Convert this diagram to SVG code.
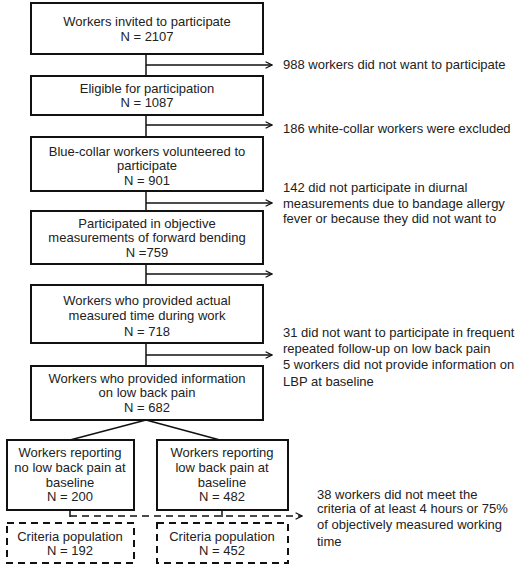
<svg xmlns="http://www.w3.org/2000/svg" width="521" height="566" viewBox="0 0 521 566">
<defs>
<marker id="arr" viewBox="0 0 10 10" refX="9" refY="5" markerWidth="8" markerHeight="8" markerUnits="userSpaceOnUse" orient="auto">
<path d="M1,1 L9,5 L1,9" fill="none" stroke="#111" stroke-width="1.6"/>
</marker>
</defs>
<style>
.box{fill:#fff;stroke:#111;stroke-width:2}
.dbox{fill:#fff;stroke:#111;stroke-width:2;stroke-dasharray:7,5}
.ln{fill:none;stroke:#111;stroke-width:1.5}
.dl{fill:none;stroke:#111;stroke-width:1.5;stroke-dasharray:7,5}
text{font-family:"Liberation Sans",Arial,sans-serif;font-size:13px;fill:#222}
.c{text-anchor:middle}
</style>
<g id="connectors">
<line class="ln" x1="146" y1="54" x2="146" y2="76"/>
<line class="ln" x1="146" y1="65" x2="272" y2="65" marker-end="url(#arr)"/>
<line class="ln" x1="146" y1="115" x2="146" y2="137"/>
<line class="ln" x1="146" y1="125" x2="272" y2="125" marker-end="url(#arr)"/>
<line class="ln" x1="146" y1="191" x2="146" y2="211"/>
<line class="ln" x1="146" y1="203" x2="272" y2="203" marker-end="url(#arr)"/>
<line class="ln" x1="146" y1="264" x2="146" y2="285"/>
<line class="ln" x1="146" y1="274" x2="272" y2="274" marker-end="url(#arr)"/>
<line class="ln" x1="146" y1="343" x2="146" y2="366"/>
<line class="ln" x1="146" y1="355" x2="272" y2="355" marker-end="url(#arr)"/>
<line class="ln" x1="146" y1="420" x2="70" y2="440"/>
<line class="ln" x1="146" y1="420" x2="220" y2="440"/>
<line class="dl" x1="70" y1="510" x2="70" y2="523"/>
<line class="dl" x1="222" y1="510" x2="222" y2="523"/>
<line class="dl" x1="70" y1="516" x2="302" y2="516" marker-end="url(#arr)"/>
</g>
<g id="n1"><rect class="box" x="31" y="3" width="232" height="51"/>
<text class="c" x="147" y="26">Workers invited to participate</text>
<text class="c" x="147" y="41">N = 2107</text></g>
<g id="n2"><rect class="box" x="31" y="76" width="232" height="39"/>
<text class="c" x="147" y="93">Eligible for participation</text>
<text class="c" x="147" y="107">N = 1087</text></g>
<g id="n3"><rect class="box" x="31" y="137" width="232" height="54"/>
<text class="c" x="147" y="156">Blue-collar workers volunteered to</text>
<text class="c" x="147" y="170">participate</text>
<text class="c" x="147" y="185">N = 901</text></g>
<g id="n4"><rect class="box" x="31" y="211" width="232" height="53"/>
<text class="c" x="147" y="228">Participated in objective</text>
<text class="c" x="147" y="242">measurements of forward bending</text>
<text class="c" x="147" y="257">N =759</text></g>
<g id="n5"><rect class="box" x="31" y="285" width="232" height="58"/>
<text class="c" x="147" y="305">Workers who provided actual</text>
<text class="c" x="147" y="320">measured time during work</text>
<text class="c" x="147" y="336">N = 718</text></g>
<g id="n6"><rect class="box" x="31" y="366" width="232" height="54"/>
<text class="c" x="147" y="383">Workers who provided information</text>
<text class="c" x="147" y="397">on low back pain</text>
<text class="c" x="147" y="412">N = 682</text></g>
<g id="n7"><rect class="box" x="7" y="440" width="127" height="70"/>
<text class="c" x="70" y="457">Workers reporting</text>
<text class="c" x="70" y="472">no low back pain at</text>
<text class="c" x="70" y="487">baseline</text>
<text class="c" x="70" y="501">N = 200</text></g>
<g id="n8"><rect class="box" x="157" y="440" width="131" height="70"/>
<text class="c" x="222" y="457">Workers reporting</text>
<text class="c" x="222" y="472">low back pain at</text>
<text class="c" x="222" y="487">baseline</text>
<text class="c" x="222" y="501">N = 482</text></g>
<g id="n9"><rect class="dbox" x="7" y="523" width="127" height="40"/>
<text class="c" x="70" y="541">Criteria population</text>
<text class="c" x="70" y="555">N = 192</text></g>
<g id="n10"><rect class="dbox" x="157" y="523" width="131" height="40"/>
<text class="c" x="222" y="541">Criteria population</text>
<text class="c" x="222" y="555">N = 452</text></g>
<g id="notes">
<text x="283" y="69">988 workers did not want to participate</text>
<text x="283" y="133">186 white-collar workers were excluded</text>
<text x="283" y="192">142 did not participate in diurnal</text>
<text x="283" y="208">measurements due to bandage allergy</text>
<text x="283" y="223">fever or because they did not want to</text>
<text x="283" y="337">31 did not want to participate in frequent</text>
<text x="283" y="353">repeated follow-up on low back pain</text>
<text x="283" y="369">5 workers did not provide information on</text>
<text x="283" y="386">LBP at baseline</text>
<text x="317" y="499">38 workers did not meet the</text>
<text x="317" y="513">criteria of at least 4 hours or 75%</text>
<text x="317" y="529">of objectively measured working</text>
<text x="317" y="546">time</text>
</g>
</svg>
